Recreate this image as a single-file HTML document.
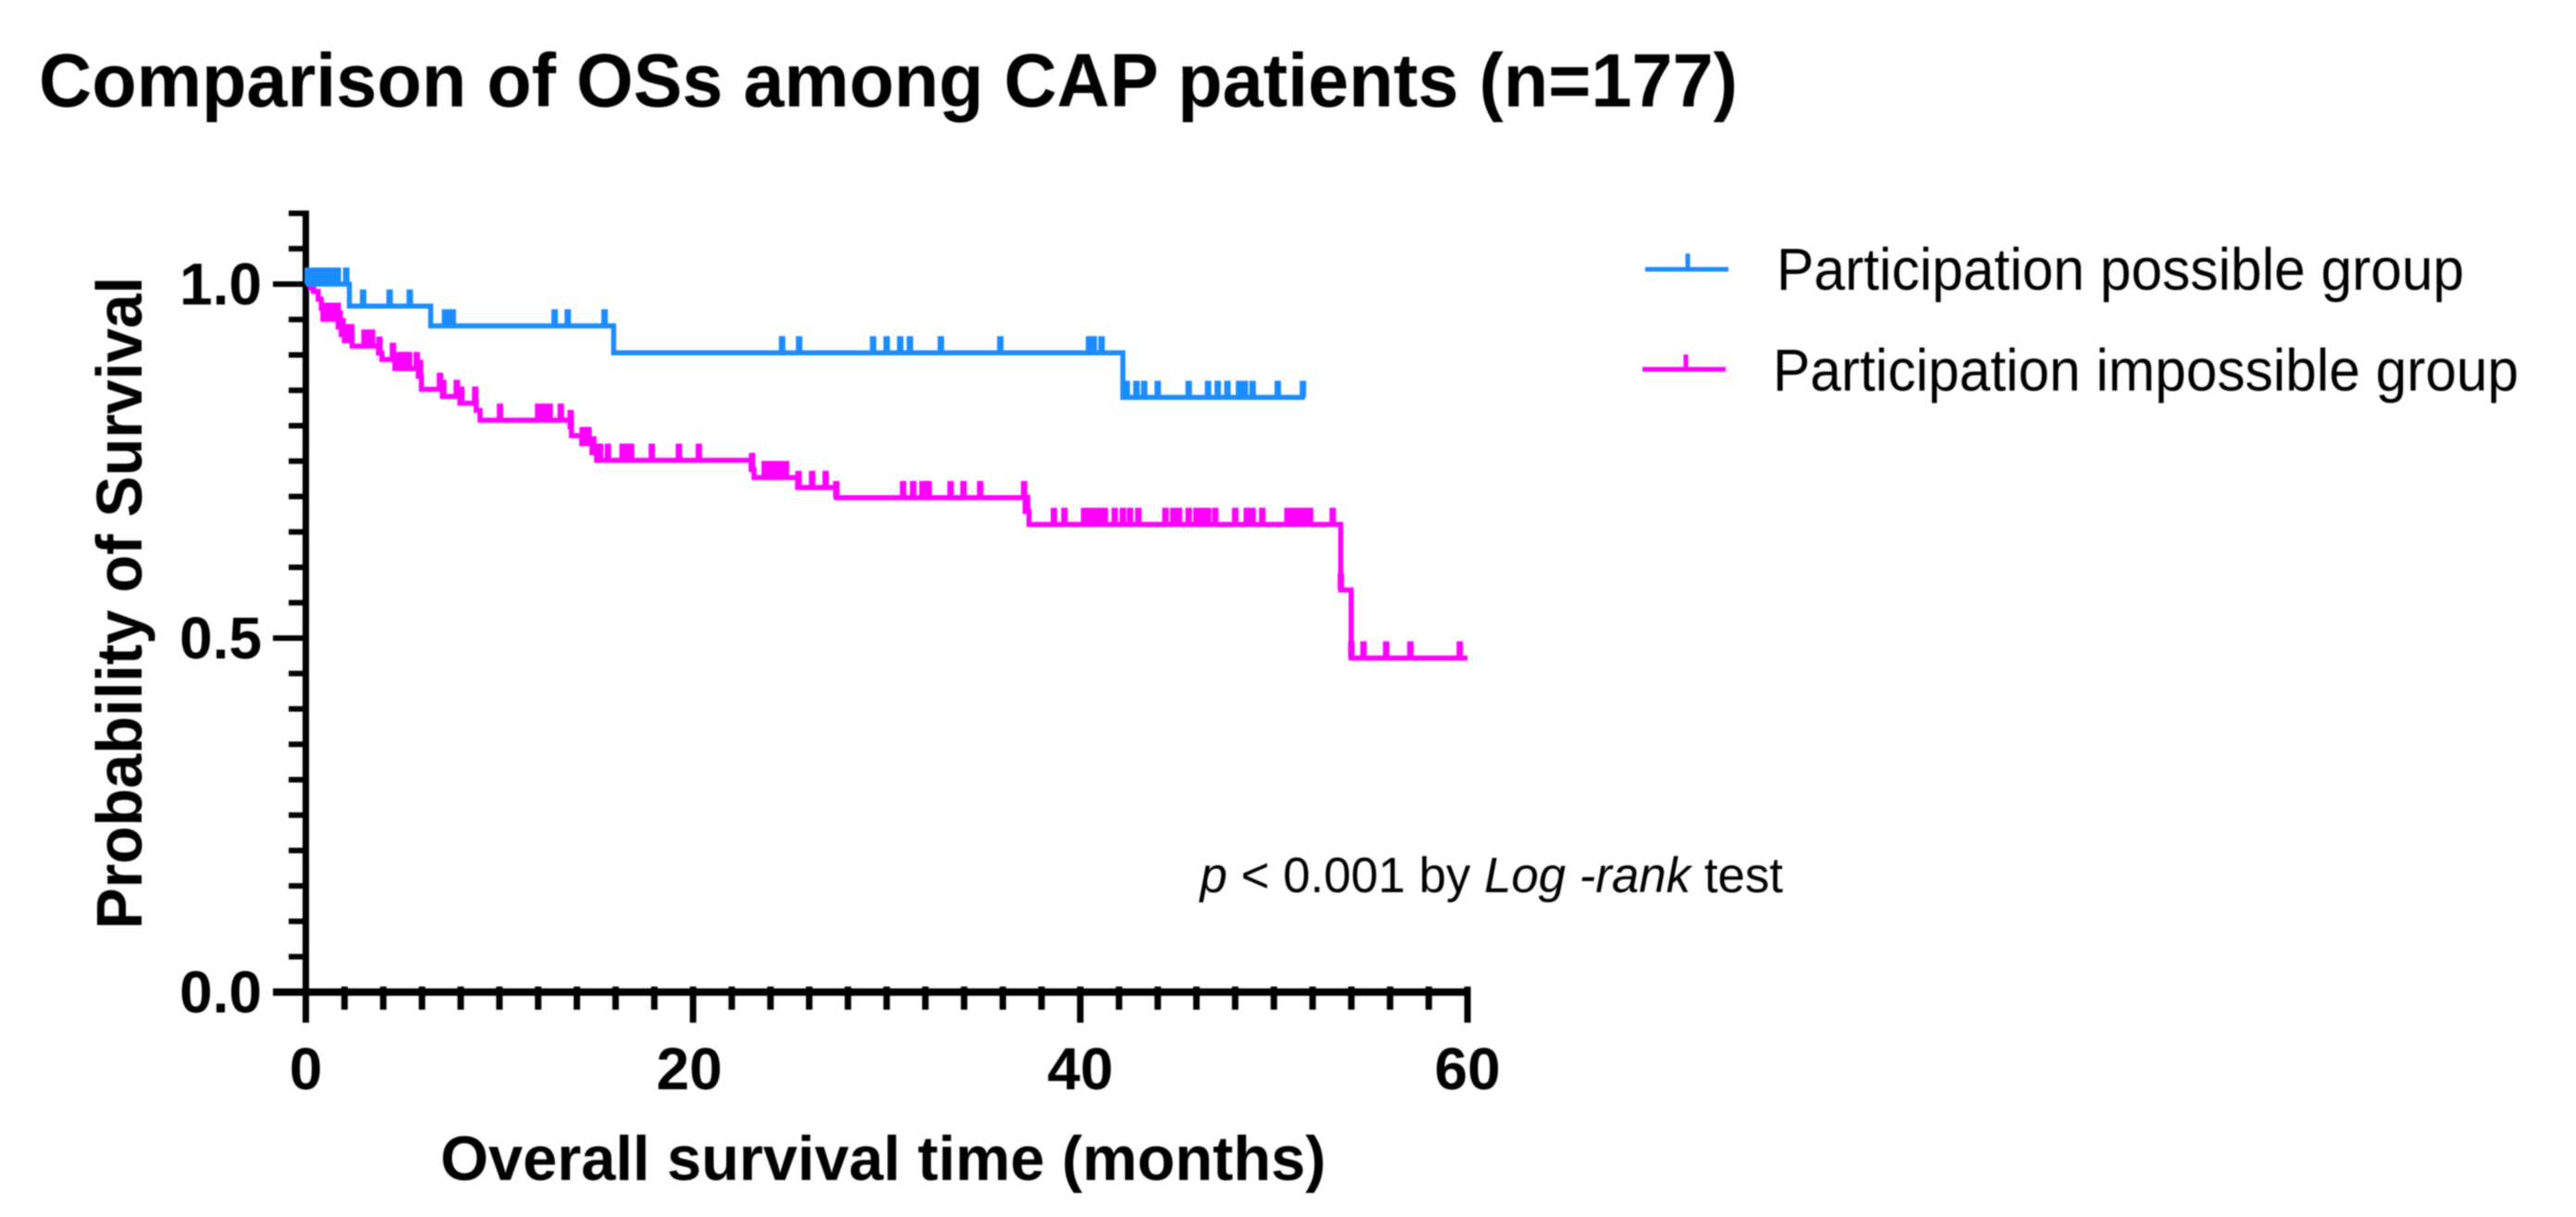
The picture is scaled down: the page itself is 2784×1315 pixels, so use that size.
<!DOCTYPE html>
<html lang="en">
<head>
<meta charset="utf-8">
<title>Comparison of OSs among CAP patients</title>
<style>
html,body{margin:0;padding:0;background:#fff;width:2784px;height:1315px;overflow:hidden}
svg{display:block;filter:blur(0.9px)}
text{font-family:"Liberation Sans",sans-serif;fill:#000}
</style>
</head>
<body>
<svg id="chart" xmlns="http://www.w3.org/2000/svg" width="2784" height="1315" viewBox="0 0 2784 1315">
  <rect x="0" y="0" width="2784" height="1315" fill="#ffffff"/>
  <text x="42" y="115" font-size="82" font-weight="700" textLength="1836" lengthAdjust="spacingAndGlyphs">Comparison of OSs among CAP patients (n=177)</text>
  <text transform="translate(153,1004) rotate(-90)" x="0" y="0" font-size="70" font-weight="700" textLength="705" lengthAdjust="spacingAndGlyphs">Probability of Survival</text>
  <text x="476" y="1275" font-size="68" font-weight="700" textLength="957" lengthAdjust="spacingAndGlyphs">Overall survival time (months)</text>
  <g id="axes"></g>
  <g id="series"></g>
  <g>
    <g>
      <line x1="1778" y1="291" x2="1868" y2="291" stroke="#1a8cff" stroke-width="5"/>
      <line x1="1824" y1="291" x2="1824" y2="274" stroke="#1a8cff" stroke-width="5"/>
      <text x="1920" y="313" font-size="64" textLength="743" lengthAdjust="spacingAndGlyphs">Participation possible group</text>
    </g>
    <g>
      <line x1="1775" y1="399" x2="1865" y2="399" stroke="#ff00ff" stroke-width="5"/>
      <line x1="1822" y1="399" x2="1822" y2="383" stroke="#ff00ff" stroke-width="5"/>
      <text x="1916" y="422" font-size="64" textLength="806" lengthAdjust="spacingAndGlyphs">Participation impossible group</text>
    </g>
  </g>
  <text x="1297" y="964" font-size="54" textLength="630" lengthAdjust="spacingAndGlyphs"><tspan font-style="italic">p</tspan> &lt; 0.001 by <tspan font-style="italic">Log -rank</tspan> test</text>
</svg>
<script>
const xMajorLabels = [0, 20, 40, 60];
const xMinorStep = 2;
const xMax = 60;
const yMajorLabels = ["0.0", "0.5", "1.0"];
const yMajorValues = [0, 0.5, 1];
const yMinorStep = 0.05;
const yMax = 1.1;

const possibleStepTimes = [0, 2.25, 6.45, 15.9, 42.2];
const possibleStepSurvival = [1, 0.969, 0.941, 0.903, 0.84];
const possibleEndTime = 51.6;
const possibleCensorTimes = [0.1, 0.3, 0.5, 0.7, 0.9, 1.05, 1.35, 1.65, 2.09, 2.96, 4.33, 5.37, 7.19, 7.4, 7.59, 12.85, 13.53, 15.43, 24.6, 25.48, 29.3, 30, 30.7, 31.2, 32.8, 35.87, 40.45, 40.7, 41.1, 42.4, 42.9, 43.3, 44, 45.6, 46.6, 47.1, 47.6, 48.2, 48.5, 48.9, 50.2, 51.5];

const impossibleStepTimes = [0, 0.24, 0.4, 0.64, 0.8, 0.88, 1.67, 1.83, 1.99, 2.39, 3.75, 3.93, 4.6, 5.81, 5.97, 7.05, 7.96, 8.8, 9.0, 13.65, 13.72, 14.25, 14.78, 15.02, 23, 23.15, 25.4, 27.4, 37.15, 37.35, 53.45, 53.99];
const impossibleStepSurvival = [1, 0.994, 0.9895, 0.9786, 0.966, 0.9503, 0.9394, 0.9286, 0.92, 0.9124, 0.9024, 0.8937, 0.8807, 0.8697, 0.8514, 0.8414, 0.8319, 0.8218, 0.8078, 0.7987, 0.786, 0.7747, 0.7617, 0.7512, 0.7382, 0.7268, 0.7128, 0.6984, 0.679, 0.6606, 0.568, 0.4719];
const impossibleEndTime = 60;
const impossibleCensorTimes = [0.95, 1.1, 1.25, 1.4, 1.55, 1.65, 1.75, 1.9, 2.1, 2.25, 2.35, 3.03, 3.2, 3.42, 3.8, 4.5, 4.7, 4.9, 5.05, 5.2, 5.33, 5.73, 5.9, 6.93, 7.1, 7.8, 8.03, 8.75, 10.03, 12, 12.15, 12.3, 12.45, 12.6, 13.17, 13.68, 14.3, 14.45, 14.6, 14.85, 15.05, 15.2, 15.6, 16.36, 16.6, 16.8, 17.87, 19.27, 20.3, 23.05, 23.7, 23.9, 24.1, 24.3, 24.5, 24.8, 25.45, 26.15, 26.85, 27.4, 30.85, 31.37, 31.85, 32, 32.17, 33.3, 33.97, 34.83, 37.1, 37.25, 38.64, 39.18, 40.2, 40.45, 40.7, 41, 41.27, 41.78, 42.2, 42.57, 43, 44.4, 44.8, 45.1, 45.6, 46, 46.3, 46.6, 46.97, 48, 48.6, 48.9, 49.4, 50.7, 51, 51.3, 51.6, 51.87, 53.04, 53.46, 54, 54.63, 55.8, 57.05, 59.6];

const SVG_NS = "http://www.w3.org/2000/svg";
const xScale = t => 330.5 + t * (1586 - 330.5) / xMax;
const yScale = s => 1072 - s * 765;

function addLine(parent, x1, y1, x2, y2, color, width) {
  const el = document.createElementNS(SVG_NS, "line");
  el.setAttribute("x1", x1);
  el.setAttribute("y1", y1);
  el.setAttribute("x2", x2);
  el.setAttribute("y2", y2);
  el.setAttribute("stroke", color);
  el.setAttribute("stroke-width", width);
  parent.appendChild(el);
  return el;
}

function addLabel(parent, x, y, anchor, content) {
  const el = document.createElementNS(SVG_NS, "text");
  el.setAttribute("x", x);
  el.setAttribute("y", y);
  el.setAttribute("text-anchor", anchor);
  el.setAttribute("font-size", "64");
  el.setAttribute("font-weight", "700");
  el.textContent = content;
  parent.appendChild(el);
  return el;
}

function levelAt(times, values, t) {
  let level = values[0];
  for (let i = 0; i < times.length; i++) {
    if (times[i] <= t) level = values[i];
  }
  return level;
}

function drawAxes() {
  const axes = document.getElementById("axes");

  const yAxis = addLine(axes, xScale(0), yScale(yMax) - 3, xScale(0), 1105, "#000", 7);
  
  

  const xAxis = addLine(axes, 295, 1072, xScale(xMax) + 3.5, 1072, "#000", 8);
  
  

  const yTickCount = Math.round(yMax / yMinorStep);
  for (let i = 1; i <= yTickCount; i++) {
    const value = i * yMinorStep;
    const isMajor = yMajorValues.some(v => Math.abs(v - value) < 1e-6);
    const tick = addLine(axes, isMajor ? 295 : 312, yScale(value), xScale(0), yScale(value), "#000", 6);
    
    
  }

  const xTickCount = Math.round(xMax / xMinorStep);
  for (let i = 1; i <= xTickCount; i++) {
    const value = i * xMinorStep;
    const isMajor = xMajorLabels.includes(value);
    const tick = addLine(axes, xScale(value), 1066, xScale(value), isMajor ? 1105 : 1091, "#000", 7);
    
    
  }

  yMajorLabels.forEach((label, i) => {
    const el = addLabel(axes, 283, yScale(yMajorValues[i]) + 22, "end", label);
    
    
  });

  xMajorLabels.forEach(label => {
    const el = addLabel(axes, xScale(label) - (label === 20 ? 4 : 0), 1177, "middle", String(label));
    
    
  });
}

function drawCurve(times, values, endTime, censors, color) {
  const layer = document.getElementById("series");
  let d = "M" + xScale(times[0]) + " " + yScale(values[0]);
  for (let i = 1; i < times.length; i++) {
    d += "H" + xScale(times[i]) + "V" + yScale(values[i]);
  }
  d += "H" + xScale(endTime);
  const path = document.createElementNS(SVG_NS, "path");
  path.setAttribute("d", d);
  path.setAttribute("fill", "none");
  path.setAttribute("stroke", color);
  path.setAttribute("stroke-width", "5.5");
  
  
  layer.appendChild(path);

  censors.forEach(t => {
    const y = yScale(levelAt(times, values, t));
    const tick = addLine(layer, xScale(t), y, xScale(t), y - 18, color, 7);
    
    
  });
}

drawAxes();
drawCurve(impossibleStepTimes, impossibleStepSurvival, impossibleEndTime, impossibleCensorTimes, "#ff00ff");
drawCurve(possibleStepTimes, possibleStepSurvival, possibleEndTime, possibleCensorTimes, "#1a8cff");
</script>
</body>
</html>
